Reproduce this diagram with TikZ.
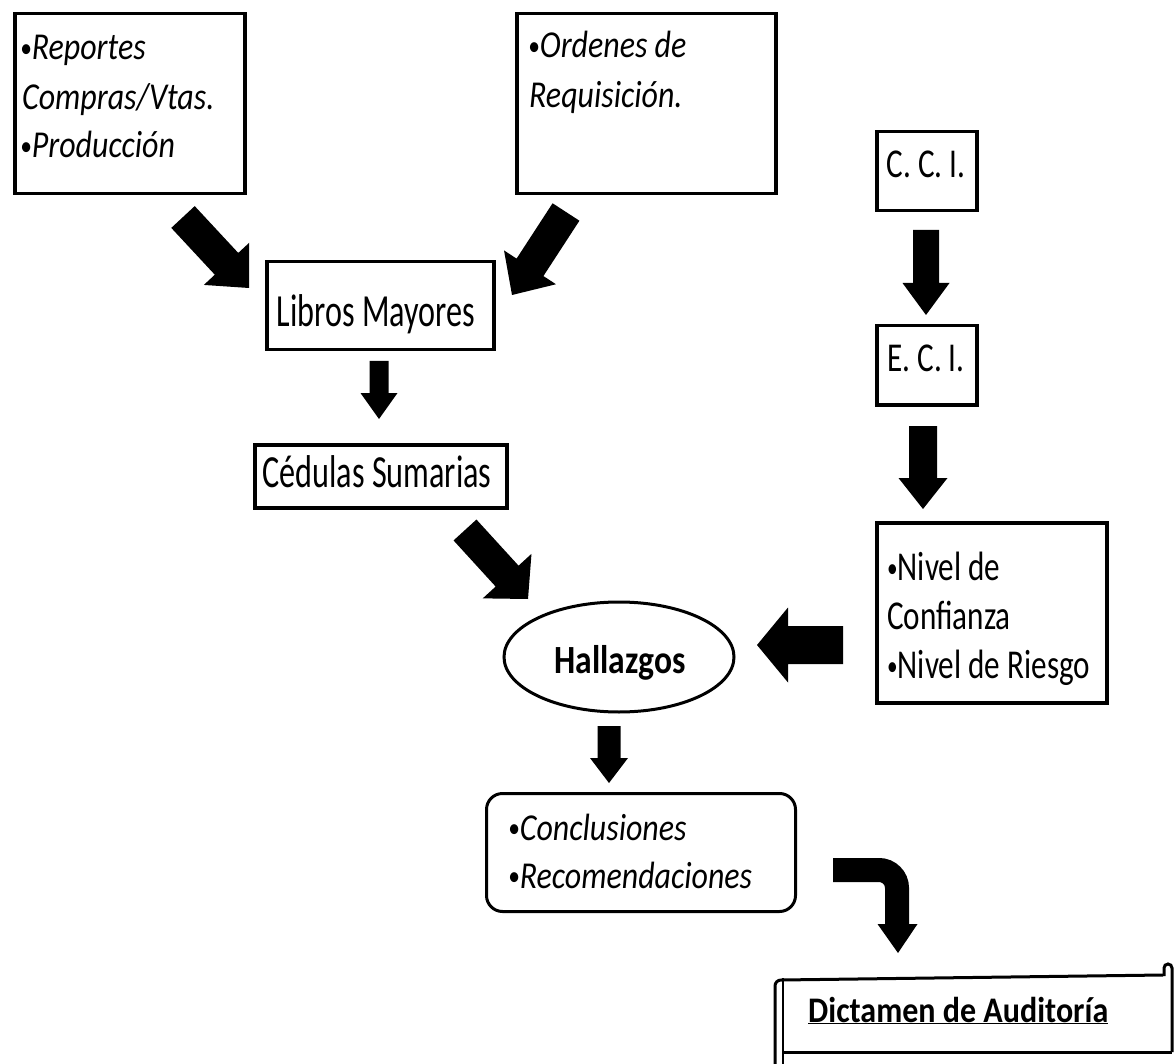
\documentclass[tikz,border=0pt]{standalone}
\usepackage{fontspec}
\setmainfont{Carlito}
\newfontfamily\fR[FakeStretch=0.70]{Carlito}
\newfontfamily\fN[FakeStretch=0.76]{Carlito}
\newfontfamily\fI[FakeStretch=0.84]{Carlito}
\newfontfamily\fB[FakeStretch=0.84]{Carlito}
\newfontfamily\fD[FakeStretch=0.89]{Carlito}
\usetikzlibrary{calc,shapes.geometric}
\newcommand\bul{{\fontsize{28}{28}\selectfont\raisebox{2.5pt}{•}}}
% tail, tip, half shaft, half head width, head length
\newcommand\blockarrow[5]{%
  \coordinate (ba-b) at ($(#2)!#5pt!(#1)$);
  \fill[black] ($(#1)!#3pt!90:(#2)$) -- ($(ba-b)!#3pt!90:(#2)$) -- ($(ba-b)!#4pt!90:(#2)$)
    -- (#2) -- ($(ba-b)!#4pt!-90:(#2)$) -- ($(ba-b)!#3pt!-90:(#2)$) -- ($(#1)!#3pt!-90:(#2)$) -- cycle;}
\begin{document}
\begin{tikzpicture}[x=1pt,y=-1pt,
  box/.style={draw, line width=3.5pt, rectangle, inner sep=0pt, anchor=north west},
  txt/.style={inner sep=0pt, anchor=base west},
  ctxt/.style={inner sep=0pt, anchor=base},
  itl/.style={font=\fI\itshape\fontsize{38}{38}\selectfont},
  reg/.style={font=\fR\fontsize{46}{46}\selectfont},
  niv/.style={font=\fN\fontsize{41}{41}\selectfont}]
\useasboundingbox (0,0) rectangle (1175,1064);
\fill[white] (0,0) rectangle (1175,1064);

% boxes
\node[box, minimum width=230pt, minimum height=180pt] (rep) at (13,12) {};
\node[box, minimum width=259pt, minimum height=180pt] (ord) at (515,12) {};
\node[box, minimum width=227pt, minimum height=88pt] (lib) at (265,260) {};
\node[box, minimum width=252pt, minimum height=63pt] (ced) at (253,443) {};
\node[box, minimum width=100pt, minimum height=79pt] (cci) at (875,130) {};
\node[box, minimum width=100pt, minimum height=79pt] (eci) at (875,324) {};
\node[box, minimum width=230pt, minimum height=180pt] (niv) at (875,521) {};
\node[box, rounded corners=16pt, line width=3pt, minimum width=309pt, minimum height=118pt] (conc) at (485,792) {};
\node[draw, ellipse, line width=3pt, minimum width=230pt, minimum height=110pt, inner sep=0pt] (hall) at (619,657) {};

% texts
\node[txt, itl] (t1) at (20,60) {\bul Reportes};
\node[txt, itl] (t2) at (22,110) {Compras/Vtas.};
\node[txt, itl] (t3) at (20,158) {\bul Producción};
\node[txt, itl] (t4) at (528,58) {\bul Ordenes de};
\node[txt, itl] (t5) at (529,108) {Requisición.};
\node[ctxt, reg] (t6) at (376,327) {Libros Mayores};
\node[ctxt, reg] (t7) at (377,487) {Cédulas Sumarias};
\node[ctxt, niv] (t8) at (926,178) {C. C. I.};
\node[ctxt, niv] (t9) at (926,372) {E. C. I.};
\node[txt, niv] (t10) at (887,580) {\bul Nivel de};
\node[txt, niv] (t11) at (887,629) {Confianza};
\node[txt, niv] (t12) at (887,678) {\bul Nivel de Riesgo};
\node[ctxt, font=\fB\bfseries\fontsize{40}{40}\selectfont] (t13) at (620,673) {Hallazgos};
\node[txt, itl] (t14) at (508,840) {\bul Conclusiones};
\node[txt, itl] (t15) at (508,888) {\bul Recomendaciones};

% scroll
\node[rectangle, inner sep=0pt, anchor=north west, minimum width=389pt, minimum height=77pt] (dict) at (783,975) {};
\draw[line width=3pt] (775,1068) -- (775,986) arc[start angle=180, end angle=270, radius=6] -- (1163,975);
\draw[line width=3pt] (1172,1052) -- (1172,968) arc[start angle=0, end angle=-180, radius=4] -- (1164,976);
\draw[line width=3pt] (783,1052) -- (1172,1052);
\draw[line width=2pt] (783,978) -- (783,1068);
\node[txt, font=\fD\bfseries\fontsize{36}{36}\selectfont] (t16) at (808,1022) {\underline{Dictamen de Auditoría}};

% arrows
\coordinate (a1t) at (183,217); \coordinate (a1h) at (249,288);
\coordinate (a2t) at (566,212); \coordinate (a2h) at (512,295);
\coordinate (a3t) at (379,361); \coordinate (a3h) at (379,419);
\coordinate (a4t) at (465,530); \coordinate (a4h) at (528,599);
\coordinate (a5t) at (926,230); \coordinate (a5h) at (926,315);
\coordinate (a6t) at (923,426); \coordinate (a6h) at (923,509);
\coordinate (a7t) at (843,645); \coordinate (a7h) at (757,645);
\coordinate (a8t) at (609,726); \coordinate (a8h) at (609,783);
\blockarrow{a1t}{a1h}{16}{31}{33}
\blockarrow{a2t}{a2h}{16}{31}{33}
\blockarrow{a3t}{a3h}{9.5}{18.5}{26}
\blockarrow{a4t}{a4h}{15.5}{33}{31}
\blockarrow{a5t}{a5h}{13}{23.5}{32}
\blockarrow{a6t}{a6h}{14}{24.5}{31}
\blockarrow{a7t}{a7h}{19}{37.5}{31}
\blockarrow{a8t}{a8h}{11.5}{19}{25}
% bent arrow
\coordinate (a9t) at (833,870); \coordinate (a9m) at (897,924); \coordinate (a9h) at (898,953);
\draw[line width=24pt, rounded corners=18pt] (a9t) -| (a9m);
\fill ($(a9m)+(-19.5,0)$) -- ($(a9m)+(20.5,0)$) -- (a9h) -- cycle;
\end{tikzpicture}
\end{document}
